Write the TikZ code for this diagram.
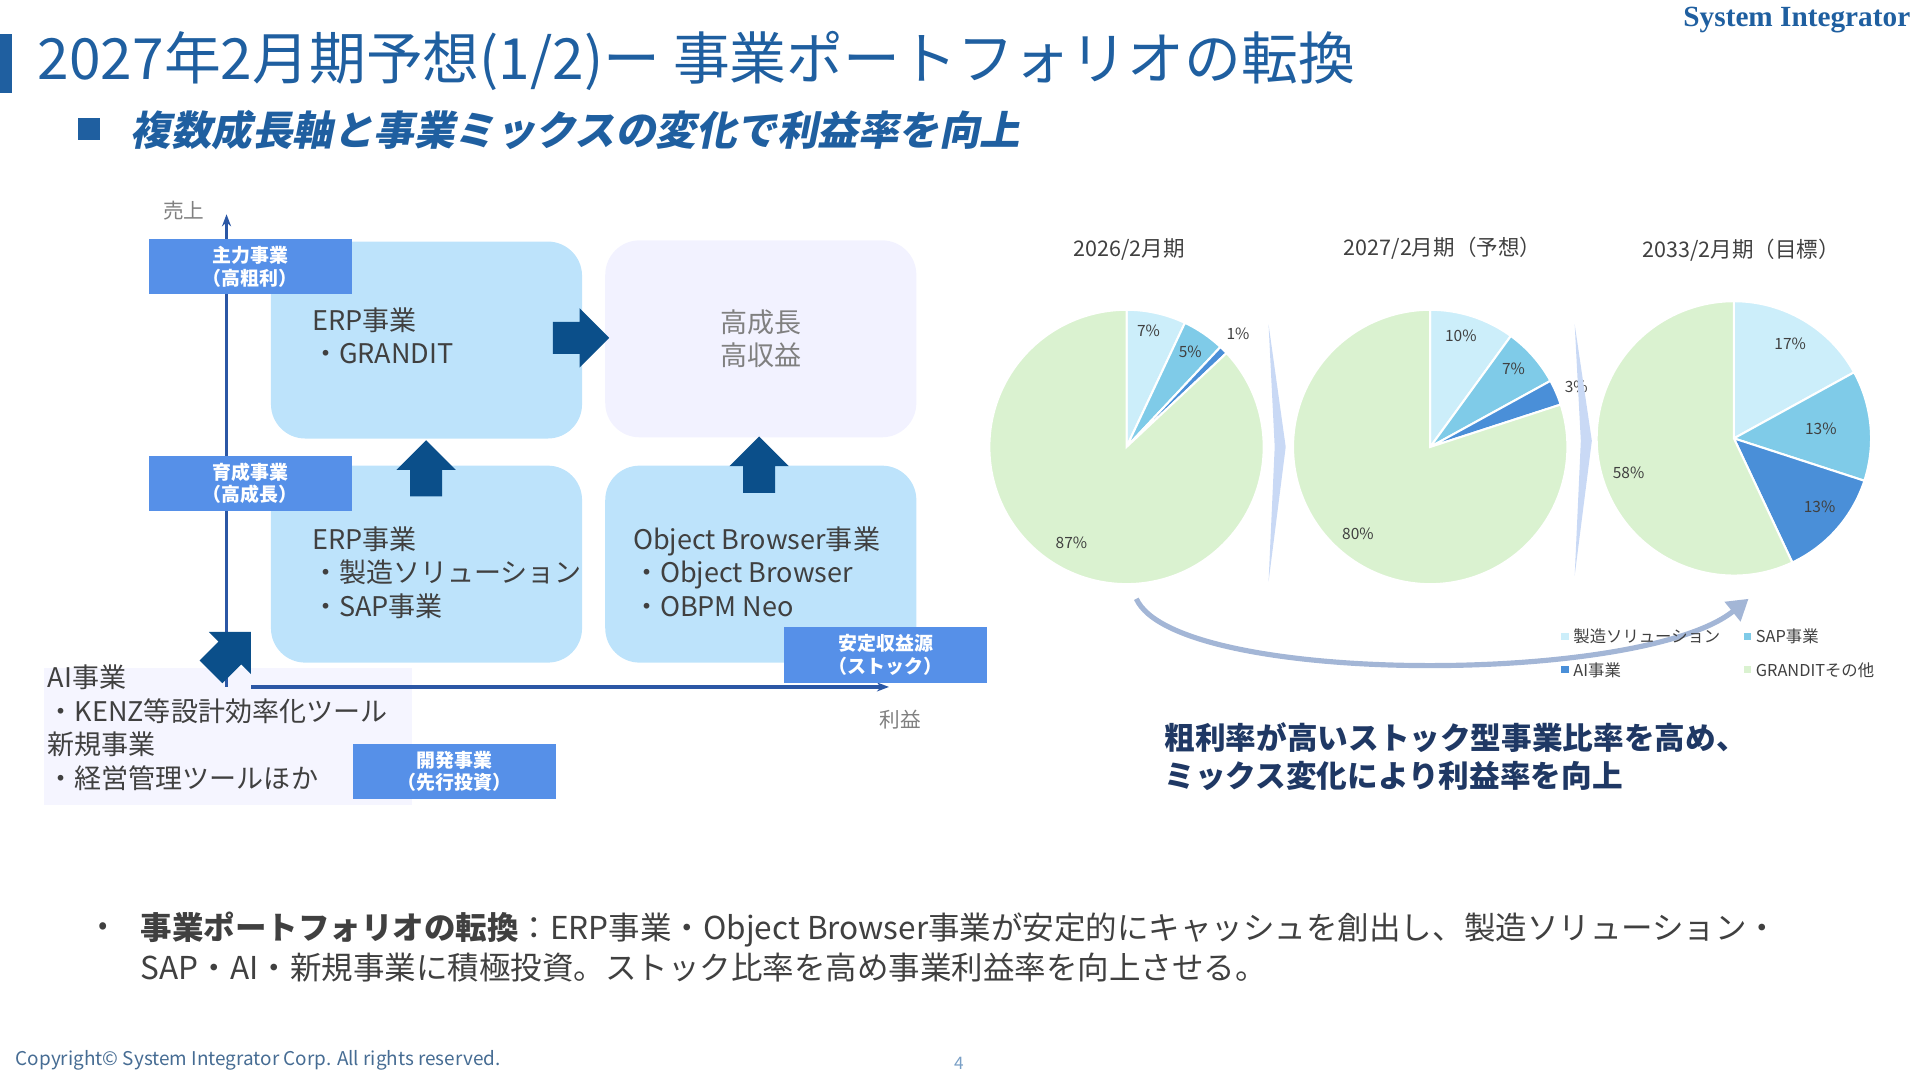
\documentclass[tikz,border=0pt]{standalone}
\usepackage{fontspec}
\setmainfont{Noto Sans CJK JP}
\newfontfamily\serifbrand{Liberation Serif}
\newfontfamily\slantjp[FakeSlant=0.2]{Noto Sans CJK JP}
\usetikzlibrary{shapes.arrows, positioning, arrows.meta}
\definecolor{titleblue}{HTML}{1F5FA0}
\definecolor{tagblue}{HTML}{5690E8}
\definecolor{boxblue}{HTML}{BDE3FB}
\definecolor{arrowblue}{HTML}{0B4F8A}
\definecolor{axisblue}{HTML}{2B57A5}
\definecolor{textgray}{HTML}{404040}
\definecolor{navy}{HTML}{1F3864}
\definecolor{chevron}{HTML}{C9D9F5}
\definecolor{mixarrow}{HTML}{A3B6D6}
\definecolor{pmfg}{HTML}{CCEEFA}
\definecolor{psap}{HTML}{7FCBE8}
\definecolor{pai}{HTML}{4A8FD8}
\definecolor{pgr}{HTML}{DAF2D0}
\newcommand{\pieslice}[4]{\fill[#4,draw=white,line width=1.2pt] (#1) -- ++(#2:2.8cm) arc[start angle=#2,end angle=#3,radius=2.8cm] -- cycle;}
\tikzset{
  bizbox/.style={rectangle,rounded corners=0.7cm,fill=boxblue,minimum width=6.35cm,minimum height=4.02cm},
  tagbox/.style={rectangle,fill=tagblue,text=white,font=\fontsize{11}{13}\selectfont\bfseries,align=center,minimum width=4.15cm,minimum height=1.13cm,inner sep=0pt},
  bizlabel/.style={anchor=north west,align=left,text=textgray,font=\fontsize{15.7}{19.5}\selectfont},
  bigarrow/.style={single arrow,fill=arrowblue,minimum height=1.15cm,single arrow head extend=0.28cm,inner xsep=0pt,inner ysep=0.32cm},
  pielabel/.style={text=textgray,font=\fontsize{9}{11}\selectfont},
  pietitle/.style={text=textgray,font=\fontsize{12.5}{15}\selectfont},
  legsq/.style={fill=#1,minimum size=0.15cm,inner sep=0pt},
  legtext/.style={right=0.05cm,text=textgray,font=\fontsize{9.5}{11}\selectfont,inner sep=1pt}
}
\begin{document}
\begin{tikzpicture}[x=0.025cm,y=-0.025cm]
    \useasboundingbox (0,0) rectangle (1568,882);
    % header
    \fill[titleblue] (0,28) rectangle (10,76);
    \node[anchor=west,text=titleblue,font=\fontsize{33}{37}\selectfont] (title) at (26,50) {2027年2月期予想(1/2)ー 事業ポートフォリオの転換};
    \node[anchor=east,text=titleblue,font=\serifbrand\fontsize{17}{20}\selectfont\bfseries] (brand) at (1565,16) {System Integrator};
    \fill[titleblue] (64,96) rectangle (82,114);
    \node[anchor=west,text=titleblue,font=\slantjp\fontsize{23.5}{27}\selectfont\bfseries] (subtitle) at (102,106) {複数成長軸と事業ミックスの変化で利益率を向上};

    % matrix
    \node[rectangle,fill=blue!4,minimum width=7.5cm,minimum height=2.8cm,anchor=north west] (aibox) at (36,545) {};
    \node[bizbox,anchor=north west] (erptop) at (221,197) {};
    \node[bizbox,anchor=north west,fill=blue!5!white] (growth) at (494,196) {};
    \node[bizbox,anchor=north west] (erpbot) at (221,380) {};
    \node[bizbox,anchor=north west] (obiz) at (494,380) {};
    \node[text=gray,font=\fontsize{15.7}{19.5}\selectfont,align=center] (growthtxt) at (growth) {高成長\\高収益};
    \node[bizlabel] (erptoptxt) at (250,246) {ERP事業\\・GRANDIT};
    \node[bizlabel] (erpbottxt) at (250,425) {ERP事業\\・製造ソリューション\\・SAP事業};
    \node[bizlabel] (obiztxt) at (512,425) {Object Browser事業\\・Object Browser\\・OBPM Neo};
    \node[bizlabel] (aitxt) at (34,538) {AI事業\\・KENZ等設計効率化ツール\\新規事業\\・経営管理ツールほか};

    % axes
    \coordinate (origin) at (185,561);
    \coordinate (ytop) at (185,175);
    \coordinate (xstart) at (205,561);
    \coordinate (xend) at (726,561);
    \draw[axisblue,line width=2.2pt,-{Stealth[length=7pt]}] (origin) -- (ytop);
    \draw[axisblue,line width=2.2pt,-{Stealth[length=7pt]}] (xstart) -- (xend);
    \node[text=gray,font=\fontsize{12}{14}\selectfont] (ylabel) at (150,172) {売上};
    \node[text=gray,font=\fontsize{12}{14}\selectfont] (xlabel) at (735,588) {利益};

    \node[tagbox,anchor=north west] (tagmain) at (121,195) {主力事業\\（高粗利）};
    \node[tagbox,anchor=north west] (taggrow) at (121,372) {育成事業\\（高成長）};
    \node[tagbox,anchor=north west] (tagstable) at (640,512) {安定収益源\\（ストック）};
    \node[tagbox,anchor=north west] (tagdev) at (288,607) {開発事業\\（先行投資）};

    \node[bigarrow] (arrright) at (468,276) {};
    \node[bigarrow,rotate=90] (arrup1) at (348,389) {};
    \node[bigarrow,rotate=90] (arrup2) at (620,386) {};
    \node[bigarrow,rotate=45] (arrdiag) at (184,537) {};

    % pies
    \coordinate (pieA) at (920,365);
    \coordinate (pieB) at (1168,365);
    \coordinate (pieC) at (1416,358);
    \pieslice{pieA}{90}{64.8}{pmfg}
    \pieslice{pieA}{64.8}{46.8}{psap}
    \pieslice{pieA}{46.8}{43.2}{pai}
    \pieslice{pieA}{43.2}{-270}{pgr}
    \pieslice{pieB}{90}{54}{pmfg}
    \pieslice{pieB}{54}{28.8}{psap}
    \pieslice{pieB}{28.8}{18}{pai}
    \pieslice{pieB}{18}{-270}{pgr}
    \pieslice{pieC}{90}{28.8}{pmfg}
    \pieslice{pieC}{28.8}{-18}{psap}
    \pieslice{pieC}{-18}{-64.8}{pai}
    \pieslice{pieC}{-64.8}{-270}{pgr}

    \node[pietitle] (titleA) at (922,204) {2026/2月期};
    \node[pietitle] (titleB) at (1178,203) {2027/2月期（予想）};
    \node[pietitle] (titleC) at (1422,204) {2033/2月期（目標）};
    \node[pielabel] (a1) at (938,270) {7\%};
    \node[pielabel] (a2) at (972,287) {5\%};
    \node[pielabel] (a3) at (1011,273) {1\%};
    \node[pielabel] (a4) at (875,443) {87\%};
    \node[pielabel] (b1) at (1193,274) {10\%};
    \node[pielabel] (b2) at (1236,301) {7\%};
    \node[pielabel,anchor=west] (b3) at (1273,316) {3\%};
    \node[pielabel] (b4) at (1109,436) {80\%};
    \node[pielabel] (c1) at (1462,281) {17\%};
    \node[pielabel] (c2) at (1487,350) {13\%};
    \node[pielabel] (c3) at (1486,414) {13\%};
    \node[pielabel] (c4) at (1330,386) {58\%};

    \fill[chevron] (1036,265) -- (1050,365) -- (1036,475) -- (1041,365) -- cycle;
    \fill[chevron] (1286,265) -- (1300,360) -- (1286,470) -- (1291,360) -- cycle;

    % mix arrow
    \coordinate (mixstart) at (928,489);
    \coordinate (mixend) at (1428,489);
    \draw[mixarrow,line width=3pt,-{Triangle[length=12pt,width=14pt]}] (mixstart) .. controls (960,560) and (1340,560) .. (mixend);

    % legend
    \node[legsq=pmfg] (lg1) at (1278,520) {};
    \node[legtext] at (lg1.east) {製造ソリューション};
    \node[legsq=psap] (lg2) at (1427,520) {};
    \node[legtext] at (lg2.east) {SAP事業};
    \node[legsq=pai] (lg3) at (1278,547) {};
    \node[legtext] at (lg3.east) {AI事業};
    \node[legsq=pgr] (lg4) at (1427,547) {};
    \node[legtext] at (lg4.east) {GRANDITその他};

    \node[anchor=west,text=navy,align=left,font=\fontsize{17.8}{22}\selectfont\bfseries] (mixnote) at (946,618) {粗利率が高いストック型事業比率を高め、\\ミックス変化により利益率を向上};

    % bullet
    \node[text=textgray,font=\fontsize{16}{18}\selectfont] (bullet) at (84,758) {•};
    \node[anchor=north west,text=textgray,align=left,font=\fontsize{18.3}{23}\selectfont] (summary) at (110,740) {\textbf{事業ポートフォリオの転換}：ERP事業・Object Browser事業が安定的にキャッシュを創出し、製造ソリューション・\\SAP・AI・新規事業に積極投資。ストック比率を高め事業利益率を向上させる。};

    % footer
    \node[anchor=west,text=titleblue!60!gray,font=\fontsize{11}{13}\selectfont] (copyright) at (8,866) {Copyright© System Integrator Corp. All rights reserved.};
    \node[text=titleblue!60,font=\fontsize{10}{12}\selectfont] (pageno) at (783,868) {4};
\end{tikzpicture}
\end{document}
